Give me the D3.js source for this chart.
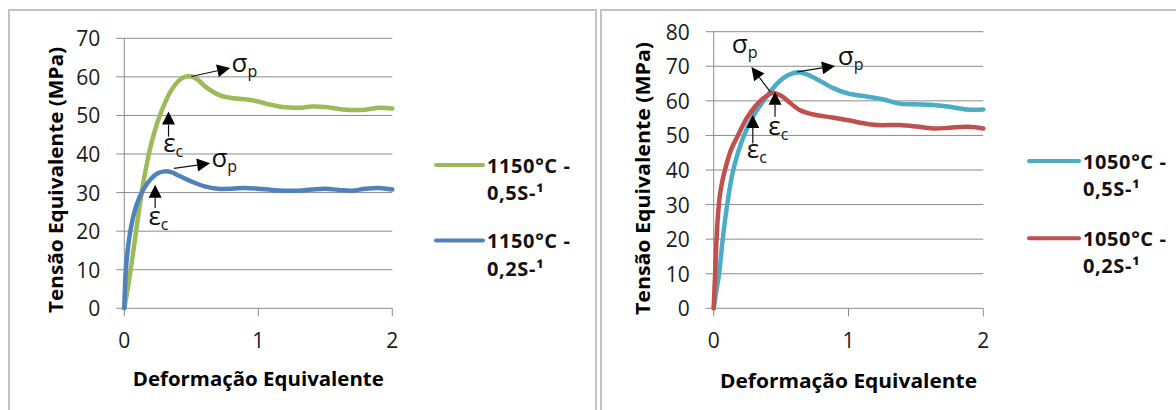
<!DOCTYPE html>
<html>
<head>
<meta charset="utf-8">
<script src="https://cdn.jsdelivr.net/npm/d3@7/dist/d3.min.js"></script>
<style>
  body { margin: 0; background: #fff; }
  svg { display: block; font-family: "Open Sans", sans-serif; }
</style>
</head>
<body>
<svg id="chart" width="1176" height="410"></svg>
<script>
// valores (tensão x deformação)
const xTicks = [0, 1, 2]
const yTicks1150 = [0, 10, 20, 30, 40, 50, 60, 70]
const yTicks1050 = [0, 10, 20, 30, 40, 50, 60, 70, 80]

const strain1150_05 = [0, 0.03, 0.06, 0.1, 0.13, 0.16, 0.2, 0.25, 0.3, 0.35, 0.4, 0.45, 0.5, 0.55, 0.6, 0.7, 0.8, 0.9, 1.0, 1.1, 1.2, 1.3, 1.4, 1.5, 1.6, 1.7, 1.8, 1.9, 2.0]
const stress1150_05 = [0, 6, 13, 23, 30, 36, 42.5, 48.5, 53, 56.5, 58.8, 60, 60.1, 59.2, 57.6, 55.4, 54.5, 54.2, 53.6, 52.7, 52.1, 52.0, 52.3, 52.2, 51.7, 51.4, 51.5, 52.0, 51.8]

const strain1150_02 = [0, 0.01, 0.025, 0.05, 0.08, 0.11, 0.15, 0.2, 0.25, 0.3, 0.35, 0.4, 0.5, 0.6, 0.7, 0.8, 0.9, 1.0, 1.1, 1.2, 1.3, 1.4, 1.5, 1.6, 1.7, 1.8, 1.9, 2.0]
const stress1150_02 = [0, 9, 15, 21, 25.5, 28.5, 31.3, 33.6, 35, 35.5, 35.3, 34.5, 32.9, 31.6, 31.0, 31.0, 31.2, 31.0, 30.7, 30.5, 30.5, 30.8, 31.0, 30.7, 30.5, 31.0, 31.2, 30.8]

const strain1050_05 = [0, 0.02, 0.04, 0.067, 0.1, 0.145, 0.225, 0.3, 0.37, 0.47, 0.55, 0.63, 0.7, 0.8, 0.89, 1.0, 1.13, 1.26, 1.38, 1.5, 1.63, 1.75, 1.88, 2.0]
const stress1050_05 = [0, 5, 10, 20, 30, 40, 50, 56, 60, 65, 67.4, 68.3, 67.5, 65.5, 63.6, 62.1, 61.3, 60.4, 59.2, 59.0, 58.8, 58.3, 57.5, 57.5]

const strain1050_02 = [0, 0.006, 0.012, 0.02, 0.03, 0.045, 0.065, 0.09, 0.13, 0.18, 0.245, 0.3, 0.37, 0.44, 0.5, 0.57, 0.64, 0.76, 0.88, 1.0, 1.1, 1.21, 1.38, 1.5, 1.63, 1.75, 1.88, 2.0]
const stress1050_02 = [0, 6, 11, 19, 26, 32.5, 37, 41, 46, 50, 55, 58, 60.8, 62.3, 61.5, 59.3, 57.3, 55.9, 55.2, 54.4, 53.6, 53.0, 53.0, 52.6, 52.0, 52.2, 52.5, 52.0]

const legend1150 = [["1150°C -", "0,5S-¹"], ["1150°C -", "0,2S-¹"]]
const legend1050 = [["1050°C -", "0,5S-¹"], ["1050°C -", "0,2S-¹"]]

// setas: origem, ponta e posição do rótulo (em unidades do gráfico)
const notes1150 = [
  { from: [0.5, 60.1], to: [0.79, 62.3], label: [0.80, 61.3], sym: "σ", sub: "p" },
  { from: [0.33, 44.5], to: [0.33, 51], label: [0.29, 40.6], sym: "ε", sub: "c" },
  { from: [0.37, 36.3], to: [0.64, 37.6], label: [0.65, 36.7], sym: "σ", sub: "p" },
  { from: [0.23, 26], to: [0.23, 32], label: [0.18, 21.6], sym: "ε", sub: "c" }
]
const notes1050 = [
  { from: [0.62, 68.4], to: [0.9, 70.1], label: [0.92, 70.3], sym: "σ", sub: "p" },
  { from: [0.42, 62.6], to: [0.28, 69.8], label: [0.134, 73.7], sym: "σ", sub: "p" },
  { from: [0.455, 55.4], to: [0.455, 62.6], label: [0.405, 50.1], sym: "ε", sub: "c" },
  { from: [0.29, 47.7], to: [0.29, 55.9], label: [0.245, 43.4], sym: "ε", sub: "c" }
]

const svg = d3.select("#chart")
const gridColor = "#8c8c8c"

// molduras dos dois painéis
svg.append("rect").attr("x", 9).attr("y", 10).attr("width", 587).attr("height", 420)
  .attr("fill", "none").attr("stroke", "#c3c3c3").attr("stroke-width", 2)
svg.append("rect").attr("x", 601).attr("y", 10).attr("width", 600).attr("height", 420)
  .attr("fill", "none").attr("stroke", "#c3c3c3").attr("stroke-width", 2)

function drawPanel(p) {
  const x = d3.scaleLinear().domain([0, 2]).range(p.xRange)
  const y = d3.scaleLinear().domain([0, p.yMax]).range(p.yRange)
  const g = svg.append("g")

  // linhas de grade horizontais (com marca à esquerda)
  g.selectAll(".grid").data(p.yTicks).enter().append("line")
    .attr("x1", x(0) - 8).attr("x2", x(2))
    .attr("y1", d => y(d)).attr("y2", d => y(d))
    .attr("stroke", gridColor).attr("stroke-width", 1)

  // eixo y e marcas do eixo x
  g.append("line").attr("x1", x(0)).attr("x2", x(0)).attr("y1", y(p.yMax)).attr("y2", y(0))
    .attr("stroke", gridColor)
  g.selectAll(".xt").data(p.xTicks).enter().append("line")
    .attr("x1", d => x(d)).attr("x2", d => x(d))
    .attr("y1", y(0)).attr("y2", y(0) + 8)
    .attr("stroke", gridColor)

  g.selectAll(".yl").data(p.yTicks).enter().append("text")
    .attr("x", x(0) - 24).attr("y", d => y(d))
    .attr("text-anchor", "end").attr("dominant-baseline", "central")
    .attr("font-size", 21).attr("fill", "#1a1a1a")
    .text(d => d)

  g.selectAll(".xl").data(p.xTicks).enter().append("text")
    .attr("x", d => x(d)).attr("y", y(0) + 32)
    .attr("text-anchor", "middle").attr("dominant-baseline", "central")
    .attr("font-size", 21).attr("fill", "#1a1a1a")
    .text(d => d)

  g.append("text")
    .attr("x", (x(0) + x(2)) / 2).attr("y", p.xTitleY)
    .attr("text-anchor", "middle").attr("dominant-baseline", "central")
    .attr("font-size", 20).attr("font-weight", "bold")
    .attr("textLength", p.xTitleLen).attr("lengthAdjust", "spacingAndGlyphs")
    .text("Deformação Equivalente")

  g.append("text")
    .attr("transform", `translate(${p.yTitleX},${p.yTitleCy}) rotate(-90)`)
    .attr("text-anchor", "middle").attr("dominant-baseline", "central")
    .attr("font-size", 20).attr("font-weight", "bold")
    .attr("textLength", p.yTitleLen).attr("lengthAdjust", "spacingAndGlyphs")
    .text("Tensão Equivalente (MPa)")

  // curvas
  const line = d3.line().x(d => x(d[0])).y(d => y(d[1])).curve(d3.curveCatmullRom.alpha(0.5))
  p.series.forEach(s => {
    g.append("path")
      .datum(s.strain.map((v, i) => [v, s.stress[i]]))
      .attr("d", line)
      .attr("fill", "none").attr("stroke", s.color)
      .attr("stroke-width", 4.5).attr("stroke-linejoin", "round").attr("stroke-linecap", "round")
  })

  // setas e rótulos
  p.notes.forEach(n => {
    const x0 = x(n.from[0]), y0 = y(n.from[1]), x1 = x(n.to[0]), y1 = y(n.to[1])
    const ang = Math.atan2(y1 - y0, x1 - x0)
    const len = 13, hw = 6.5
    const bx = x1 - len * Math.cos(ang), by = y1 - len * Math.sin(ang)
    g.append("line").attr("x1", x0).attr("y1", y0).attr("x2", bx).attr("y2", by)
      .attr("stroke", "#111").attr("stroke-width", 1.2)
    const pts = [
      [x1, y1],
      [bx + hw * Math.sin(ang), by - hw * Math.cos(ang)],
      [bx - hw * Math.sin(ang), by + hw * Math.cos(ang)]
    ]
    g.append("polygon").attr("points", pts.map(q => q.join(",")).join(" ")).attr("fill", "#000")
    const t = g.append("text").attr("x", x(n.label[0])).attr("y", y(n.label[1]))
      .attr("font-size", 26).attr("fill", "#111")
    t.append("tspan").text(n.sym)
    t.append("tspan").attr("font-size", 16).attr("dy", 5).text(n.sub)
  })

  // legenda
  p.legend.forEach((lab, i) => {
    const ly = p.legendY[i]
    g.append("line").attr("x1", p.legendX[0]).attr("x2", p.legendX[1])
      .attr("y1", ly).attr("y2", ly)
      .attr("stroke", p.series[i].color).attr("stroke-width", 4).attr("stroke-linecap", "round")
    lab.forEach((txt, j) => {
      g.append("text").attr("x", p.legendX[1] + 4).attr("y", ly + j * 27.5)
        .attr("dominant-baseline", "central")
        .attr("font-size", 20).attr("font-weight", "bold").attr("fill", "#111")
        .attr("letter-spacing", 0.6)
        .text(txt)
    })
  })
}

drawPanel({
  xRange: [124.3, 392.3], yRange: [308.3, 38.3], yMax: 70,
  xTicks: xTicks, yTicks: yTicks1150,
  xTitleY: 378, xTitleLen: 251,
  yTitleX: 55, yTitleCy: 180, yTitleLen: 266,
  series: [
    { strain: strain1150_05, stress: stress1150_05, color: "#9bbb59" },
    { strain: strain1150_02, stress: stress1150_02, color: "#4f81bd" }
  ],
  notes: notes1150,
  legend: legend1150, legendX: [436, 483], legendY: [165, 240.5]
})

drawPanel({
  xRange: [713.7, 983.3], yRange: [308.3, 31.7], yMax: 80,
  xTicks: xTicks, yTicks: yTicks1050,
  xTitleY: 380, xTitleLen: 257,
  yTitleX: 642, yTitleCy: 178.5, yTitleLen: 273,
  series: [
    { strain: strain1050_05, stress: stress1050_05, color: "#4bacc6" },
    { strain: strain1050_02, stress: stress1050_02, color: "#c0504d" }
  ],
  notes: notes1050,
  legend: legend1050, legendX: [1029, 1079], legendY: [161, 238.3]
})
</script>
</body>
</html>
